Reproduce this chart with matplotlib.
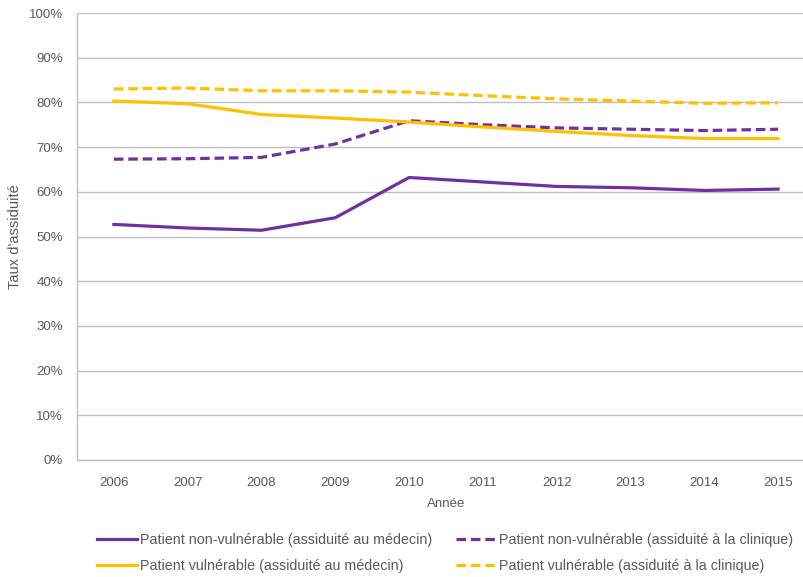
import matplotlib
matplotlib.use('Agg')
import matplotlib.pyplot as plt
from matplotlib.ticker import PercentFormatter

plt.rcParams['font.family'] = ['Liberation Sans', 'DejaVu Sans']

# data (%)
years = ['2006', '2007', '2008', '2009', '2010', '2011', '2012', '2013', '2014', '2015']
nonvuln_medecin = [52.7, 51.9, 51.4, 54.2, 63.2, 62.2, 61.2, 60.9, 60.3, 60.6]
nonvuln_clinique = [67.3, 67.4, 67.7, 70.7, 75.9, 75.0, 74.3, 74.0, 73.7, 74.0]
vuln_medecin = [80.3, 79.7, 77.3, 76.5, 75.6, 74.5, 73.5, 72.6, 71.9, 71.9]
vuln_clinique = [83.0, 83.2, 82.6, 82.6, 82.3, 81.5, 80.8, 80.3, 79.8, 79.9]

labels = ['Patient non-vulnérable (assiduité au médecin)',
          'Patient non-vulnérable (assiduité à la clinique)',
          'Patient vulnérable (assiduité au médecin)',
          'Patient vulnérable (assiduité à la clinique)']

PURPLE = '#7030A0'
YELLOW = '#FFC000'
GREY = '#595959'
GRID = '#BFBFBF'

fig = plt.figure(figsize=(8.04, 5.77), dpi=100)
ax = fig.add_axes([77 / 804, 1 - 460 / 577, (815 - 77) / 804, (460 - 13) / 577])

x = range(len(years))
lw = 2.3
dash = (3.0, 1.5)
h1, = ax.plot(x, nonvuln_medecin, color=PURPLE, lw=lw, label=labels[0])
h2, = ax.plot(x, nonvuln_clinique, color=PURPLE, lw=lw, dashes=dash, label=labels[1])
h3, = ax.plot(x, vuln_medecin, color=YELLOW, lw=lw, label=labels[2])
h4, = ax.plot(x, vuln_clinique, color=YELLOW, lw=lw, dashes=dash, label=labels[3])

ax.set_xlim(-0.5, len(years) - 0.5)
ax.set_ylim(0, 100)
ax.set_yticks(range(0, 101, 10))
ax.yaxis.set_major_formatter(PercentFormatter(decimals=0))
ax.set_xticks(list(x))
ax.set_xticklabels(years)
ax.grid(axis='y', color=GRID, lw=1)
ax.set_axisbelow(True)
ax.tick_params(length=0, labelsize=9.5, colors=GREY)
ax.tick_params(axis='x', pad=12)
ax.tick_params(axis='y', pad=10)
for s in ['top', 'right']:
    ax.spines[s].set_visible(False)
for s in ['left', 'bottom']:
    ax.spines[s].set_color(GRID)
    ax.spines[s].set_linewidth(1)

ax.set_xlabel('Année', fontsize=9.5, color=GREY, labelpad=7)
ax.set_ylabel("Taux d'assiduité", fontsize=10.5, color=GREY, labelpad=5)

# column-wise fill: order so rows read (non-vuln) then (vuln)
leg = fig.legend(handles=[h1, h3, h2, h4], ncol=2, loc='center',
                 bbox_to_anchor=(445 / 804, 1 - 553 / 577), frameon=False,
                 fontsize=10.3, handlelength=2.8, handletextpad=0.25,
                 columnspacing=1.6, labelspacing=0.85)
for t in leg.get_texts():
    t.set_color(GREY)

fig.savefig('out.png', dpi=100)
